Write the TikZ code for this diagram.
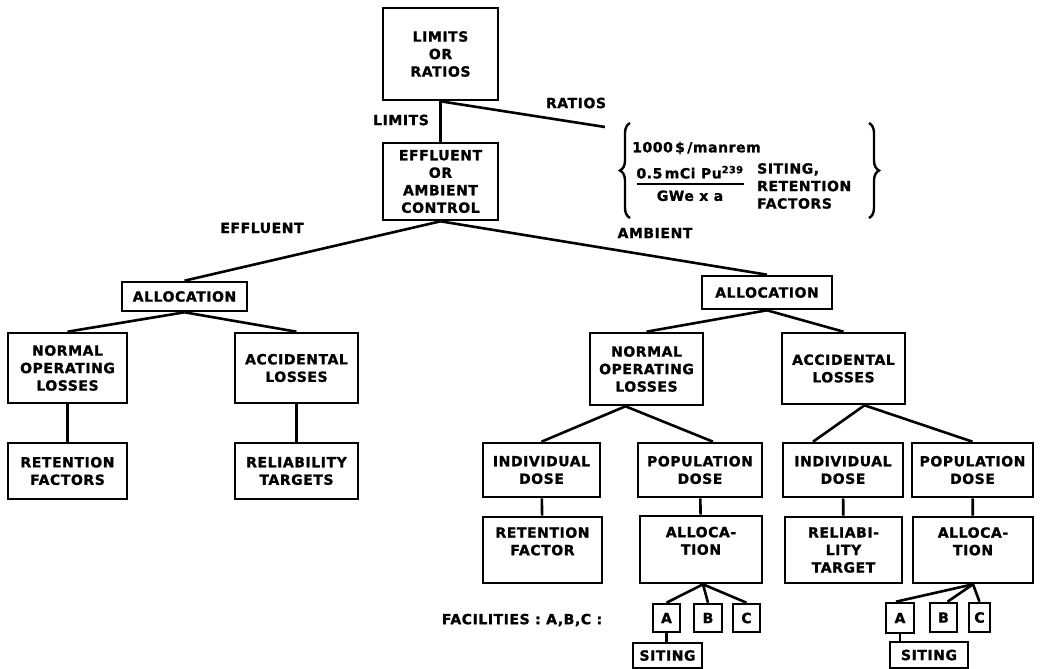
\documentclass[tikz,border=0pt]{standalone}
\usepackage{fontspec}
\setmainfont{DejaVu Sans}[LetterSpace=4, BoldFeatures={FakeBold=1.2}]
\usetikzlibrary{decorations.pathreplacing}
\newcommand\lbl{\bfseries\fontsize{14}{17.5}\selectfont}
\tikzset{
  box/.style={draw, line width=2.6pt, inner sep=0pt, align=center, font=\lbl},
  conn/.style={line width=2.6pt},
  lab/.style={font=\lbl, inner sep=0pt},
  brc/.style={line width=2.4pt, decorate, decoration={brace, amplitude=10pt, aspect=0.5}}
}
\begin{document}
\begin{tikzpicture}[x=1pt, y=-1pt]
\useasboundingbox (0,0) rectangle (1041,669);
% boxes
\node[box, minimum width=115pt, minimum height=92pt] (top) at (440.5,54) {LIMITS\\OR\\RATIOS};
\node[box, minimum width=115pt, minimum height=77pt] (eff) at (440.5,181.5) {EFFLUENT\\OR\\AMBIENT\\CONTROL};
\node[box, minimum width=125pt, minimum height=29pt] (allocL) at (184.5,296.5) {ALLOCATION};
\node[box, minimum width=130pt, minimum height=33pt] (allocR) at (767,292.5) {ALLOCATION};
\node[box, minimum width=119pt, minimum height=70pt] (normL) at (67.5,368) {NORMAL\\OPERATING\\LOSSES};
\node[box, minimum width=123pt, minimum height=70pt] (accL) at (296.5,368) {ACCIDENTAL\\LOSSES};
\node[box, minimum width=119pt, minimum height=56pt] (retL) at (67.5,471) {RETENTION\\FACTORS};
\node[box, minimum width=123pt, minimum height=56pt] (relL) at (296.5,471) {RELIABILITY\\TARGETS};
\node[box, minimum width=113pt, minimum height=72pt] (normR) at (646.5,369) {NORMAL\\OPERATING\\LOSSES};
\node[box, minimum width=123pt, minimum height=71pt] (accR) at (843.5,368.5) {ACCIDENTAL\\LOSSES};
\node[box, minimum width=117pt, minimum height=54pt] (ind1) at (541.5,470) {INDIVIDUAL\\DOSE};
\node[box, minimum width=124pt, minimum height=54pt] (pop1) at (700,470) {POPULATION\\DOSE};
\node[box, minimum width=120pt, minimum height=54pt] (ind2) at (843,470) {INDIVIDUAL\\DOSE};
\node[box, minimum width=121pt, minimum height=54pt] (pop2) at (972.5,470) {POPULATION\\DOSE};
\node[box, minimum width=119pt, minimum height=66pt] (ret1) at (542.5,550) {RETENTION\\FACTOR\\\mbox{}};
\node[box, minimum width=122pt, minimum height=67pt] (all1) at (701,549.5) {ALLOCA-\\TION\\\mbox{}};
\node[box, minimum width=117pt, minimum height=66pt] (rel2) at (843.5,550) {RELIABI-\\LITY\\TARGET};
\node[box, minimum width=120pt, minimum height=66pt] (all2) at (973,550) {ALLOCA-\\TION\\\mbox{}};
\node[box, minimum width=27pt, minimum height=28pt] (a1) at (666.5,618) {A};
\node[box, minimum width=28pt, minimum height=28pt] (b1) at (708,618) {B};
\node[box, minimum width=27pt, minimum height=28pt] (c1) at (746.5,618) {C};
\node[box, minimum width=69pt, minimum height=25pt] (s1) at (667.5,655.5) {SITING};
\node[box, minimum width=28pt, minimum height=30pt] (a2) at (900,618) {A};
\node[box, minimum width=27pt, minimum height=29pt] (b2) at (943.5,617.5) {B};
\node[box, minimum width=21pt, minimum height=29pt] (c2) at (979.5,617.5) {C};
\node[box, minimum width=78pt, minimum height=26pt] (s2) at (929,655) {SITING};
% labels
\node[lab] (lLim) at (401,120) {LIMITS};
\node[lab] (lRat) at (576,103) {RATIOS};
\node[lab] (lEff) at (262,228) {EFFLUENT};
\node[lab] (lAmb) at (655,233) {AMBIENT};
\node[lab, anchor=west] (man) at (632,148) {1000\,\$\,/manrem};
\node[lab] (frac) at (690,186) {\setlength{\arrayrulewidth}{2.2pt}\begin{tabular}{@{}c@{}}0.5\,mCi Pu\textsuperscript{239}\\[-1pt]\hline\rule{0pt}{16pt}GWe x a\end{tabular}};
\node[lab, anchor=west, align=left] (sit) at (757,186) {SITING,\\RETENTION\\FACTORS};
\node[lab] (fac) at (522,620) {FACILITIES : A,B,C :};
% braces
\coordinate (bl1) at (630,218);
\coordinate (bl2) at (630,123);
\coordinate (br1) at (869,123);
\coordinate (br2) at (869,218);
\draw[brc] (bl1) -- (bl2);
\draw[brc] (br1) -- (br2);
% connectors
\coordinate (rt) at (605,127);
\draw[conn] (top.south) -- (eff.north);
\draw[conn] (top.south) -- (rt);
\draw[conn] (eff.south) -- (allocL.north);
\draw[conn] (eff.south) -- (allocR.north);
\draw[conn] (allocL.south) -- (normL.north);
\draw[conn] (allocL.south) -- (accL.north);
\draw[conn] (normL) -- (retL);
\draw[conn] (accL) -- (relL);
\draw[conn] (allocR.south) -- (normR.north);
\draw[conn] (allocR.south) -- (accR.north);
\draw[conn] ([xshift=-21pt]normR.south) -- (ind1.north);
\draw[conn] ([xshift=-21pt]normR.south) -- ([xshift=13pt]pop1.north);
\draw[conn] ([xshift=21pt]accR.south) -- ([xshift=-30pt]ind2.north);
\draw[conn] ([xshift=21pt]accR.south) -- (pop2.north);
\draw[conn] (ind1) -- (ret1);
\draw[conn] (pop1) -- (all1);
\draw[conn] (ind2) -- (rel2);
\draw[conn] (pop2) -- (all2);
\draw[conn] ([xshift=2pt]all1.south) -- (a1.north);
\draw[conn] ([xshift=2pt]all1.south) -- (b1.north);
\draw[conn] ([xshift=2pt]all1.south) -- (c1.north);
\draw[conn] (a1.south) -- (a1.south |- s1.north);
\draw[conn] (all2.south) -- ([xshift=-4pt]a2.north);
\draw[conn] (all2.south) -- ([xshift=4pt]b2.north);
\draw[conn] (all2.south) -- (c2.north);
\draw[conn] (a2.south) -- (a2.south |- s2.north);
\end{tikzpicture}
\end{document}
